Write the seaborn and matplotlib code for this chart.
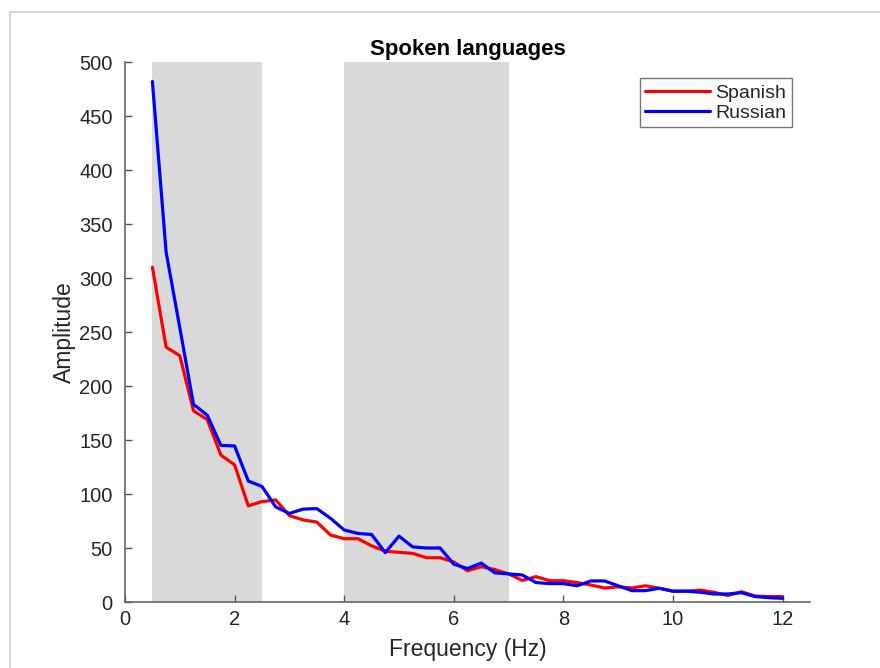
import numpy as np
import pandas as pd
import matplotlib
matplotlib.use("Agg")
import matplotlib.pyplot as plt
import seaborn as sns
from matplotlib.lines import Line2D

# Amplitude spectra, sampled every 0.25 Hz from 0.5 to 12 Hz
frequency = np.arange(0.5, 12.0001, 0.25)
spanish = [310, 236, 228, 177, 169, 136, 127, 89, 93, 94.5,
           80, 76, 74, 62, 58.6, 58.6, 52, 47, 46, 45,
           41, 41, 37, 29, 32.7, 30, 26, 20, 23.5, 19.7,
           19.7, 18, 15.7, 13, 14, 13, 15, 12.7, 10, 10,
           11, 9, 6, 9.5, 5.5, 5, 5]
russian = [482, 324, 254, 183, 173, 145, 144.5, 112, 107, 88,
           82, 86, 86.5, 77.5, 66.7, 63.5, 62.5, 45.7, 61, 51,
           50, 50, 35, 31, 36, 27, 26, 25, 18, 17,
           17, 15, 19.5, 19.5, 15, 10.5, 10.5, 12.7, 10, 10,
           9, 7.4, 7.4, 8.6, 5, 4, 3.4]
languages = ["Spanish", "Russian"]
line_colors = {"Spanish": "#ff0000", "Russian": "#0000ff"}
# Frequency bands highlighted in the background (Hz)
bands = [(0.5, 2.5), (4.0, 7.0)]
x_ticks = [0, 2, 4, 6, 8, 10, 12]
y_ticks = [0, 50, 100, 150, 200, 250, 300, 350, 400, 450, 500]

df = pd.concat([
    pd.DataFrame({"Frequency": frequency, "Amplitude": spanish, "Language": "Spanish"}),
    pd.DataFrame({"Frequency": frequency, "Amplitude": russian, "Language": "Russian"}),
], ignore_index=True)

sns.set_style("white")
plt.rcParams["font.family"] = ["Liberation Sans", "DejaVu Sans"]

W, H = 880, 668
fig = plt.figure(figsize=(W / 100, H / 100), dpi=100)
ax = fig.add_axes([125 / W, 1 - 602 / H, (810 - 125) / W, (602 - 62) / H])

for lo, hi in bands:
    ax.axvspan(lo, hi, color="#d9d9d9", lw=0, zorder=0)

sns.lineplot(data=df, x="Frequency", y="Amplitude", hue="Language",
             hue_order=languages, palette=line_colors, linewidth=2.3,
             ax=ax, legend=False, zorder=3)

ax.set_xlim(0, 12.5)
ax.set_ylim(0, 500)
ax.set_xticks(x_ticks)
ax.set_yticks(y_ticks)
ax.tick_params(bottom=True, left=True, top=False, right=False,
               direction="in", length=5, width=1, colors="#555555",
               labelcolor="#262626", labelsize=14.5)
ax.tick_params(axis="x", pad=6)
ax.tick_params(axis="y", pad=9)
for side in ("top", "right"):
    ax.spines[side].set_visible(False)
for side in ("left", "bottom"):
    ax.spines[side].set_color("#666666")
    ax.spines[side].set_linewidth(1.2)

ax.set_xlabel("Frequency (Hz)", fontsize=16.5, color="#262626", labelpad=6)
ax.set_ylabel("Amplitude", fontsize=16.5, color="#262626", labelpad=2)
ax.set_title("Spoken languages", fontsize=16, fontweight="bold", color="black", pad=5)

handles = [Line2D([], [], color=line_colors[k], lw=2.3) for k in languages]
leg = ax.legend(handles, languages, loc="upper right", bbox_to_anchor=(0.974, 0.97),
                fontsize=14, frameon=True, fancybox=False, borderpad=0.3,
                handlelength=3.3, handletextpad=0.3, labelspacing=0.12,
                borderaxespad=0)
leg.get_frame().set_edgecolor("#555555")
leg.get_frame().set_linewidth(1.0)

# Thin frame lines along the top and left of the canvas
fig.add_artist(Line2D([10 / W, 10 / W], [0, 1 - 12 / H], transform=fig.transFigure,
                      color="#d0d0d0", lw=1.2))
fig.add_artist(Line2D([10 / W, 1], [1 - 12 / H, 1 - 12 / H], transform=fig.transFigure,
                      color="#d0d0d0", lw=1.2))

fig.savefig("out.png", dpi=100)
